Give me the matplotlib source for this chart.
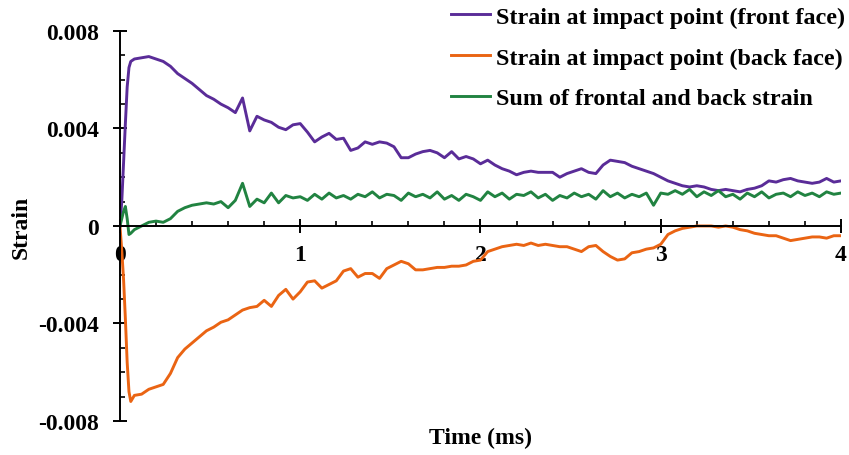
import matplotlib
matplotlib.use('Agg')
import matplotlib.pyplot as plt
import numpy as np
from matplotlib.ticker import MultipleLocator, FuncFormatter

plt.rcParams['font.family'] = ['Liberation Serif', 'DejaVu Serif']
plt.rcParams['font.weight'] = 'bold'
plt.rcParams['axes.unicode_minus'] = False

# time axis (ms): fine steps over the impact, then every 0.04 ms
time_early = [0.0, 0.01, 0.02, 0.03, 0.04, 0.05, 0.06]
time_main = list(np.round(np.arange(0.08, 4.001, 0.04), 2))
time_ms = np.array(time_early + time_main)

# strain values, in units of 1e-3
front_face = [0.0, 1.0, 2.6, 4.2, 5.7, 6.5, 6.75,
              6.85, 6.90, 6.95, 6.85, 6.75, 6.55, 6.25, 6.05, 5.85, 5.60,
              5.35, 5.20, 5.00, 4.85, 4.65, 5.25, 3.90, 4.50, 4.35, 4.25,
              4.05, 3.95, 4.15, 4.20, 3.85, 3.45, 3.65, 3.80, 3.55, 3.60,
              3.10, 3.20, 3.45, 3.35, 3.45, 3.40, 3.25, 2.80, 2.80, 2.95,
              3.05, 3.10, 3.00, 2.80, 3.05, 2.75, 2.85, 2.75, 2.55, 2.70,
              2.50, 2.35, 2.25, 2.10, 2.20, 2.25, 2.20, 2.20, 2.20, 2.00,
              2.15, 2.25, 2.35, 2.20, 2.15, 2.50, 2.70, 2.65, 2.60, 2.45,
              2.35, 2.25, 2.15, 2.00, 1.85, 1.75, 1.65, 1.60, 1.65, 1.60,
              1.50, 1.45, 1.50, 1.45, 1.40, 1.50, 1.55, 1.65, 1.85, 1.80,
              1.90, 1.95, 1.85, 1.80, 1.75, 1.80, 1.95, 1.80, 1.85]

back_face = [0.0, -1.0, -2.2, -3.8, -5.6, -6.8, -7.2,
             -6.95, -6.90, -6.70, -6.60, -6.50, -6.05, -5.40, -5.05, -4.80, -4.55,
             -4.30, -4.15, -3.95, -3.85, -3.65, -3.45, -3.35, -3.30, -3.05, -3.30,
             -2.85, -2.60, -3.00, -2.70, -2.30, -2.25, -2.55, -2.40, -2.25, -1.85,
             -1.75, -2.10, -1.95, -1.95, -2.15, -1.75, -1.60, -1.45, -1.55, -1.80,
             -1.80, -1.75, -1.70, -1.70, -1.65, -1.65, -1.60, -1.45, -1.40, -1.05,
             -0.95, -0.85, -0.80, -0.75, -0.80, -0.70, -0.80, -0.75, -0.80, -0.85,
             -0.85, -0.95, -1.05, -0.85, -0.80, -1.05, -1.25, -1.40, -1.35, -1.10,
             -1.05, -0.95, -0.90, -0.75, -0.35, -0.20, -0.10, -0.05, 0.00, 0.00,
             0.00, -0.05, 0.00, -0.05, -0.15, -0.20, -0.30, -0.35, -0.40, -0.40,
             -0.50, -0.60, -0.55, -0.50, -0.45, -0.45, -0.50, -0.40, -0.40]

sum_strain = [0.0, 0.3, 0.6, 0.8, 0.3, -0.35, -0.3,
              -0.15, 0.00, 0.15, 0.20, 0.15, 0.30, 0.60, 0.75, 0.85, 0.90,
              0.95, 0.90, 1.00, 0.75, 1.05, 1.75, 0.80, 1.10, 0.95, 1.35,
              0.95, 1.25, 1.15, 1.20, 1.05, 1.30, 1.10, 1.35, 1.15, 1.25,
              1.10, 1.30, 1.20, 1.40, 1.15, 1.30, 1.25, 1.05, 1.35, 1.20,
              1.30, 1.15, 1.40, 1.10, 1.25, 1.05, 1.30, 1.20, 1.05, 1.40,
              1.20, 1.35, 1.10, 1.30, 1.25, 1.40, 1.15, 1.30, 1.05, 1.25,
              1.15, 1.35, 1.20, 1.30, 1.10, 1.45, 1.20, 1.35, 1.15, 1.30,
              1.20, 1.35, 0.85, 1.35, 1.30, 1.45, 1.30, 1.50, 1.20, 1.40,
              1.25, 1.45, 1.20, 1.30, 1.10, 1.35, 1.20, 1.40, 1.15, 1.30,
              1.35, 1.20, 1.40, 1.25, 1.35, 1.20, 1.40, 1.30, 1.35]

labels = ['Strain at impact point (front face)',
          'Strain at impact point (back face)',
          'Sum of frontal and back strain']
colors = ['#5A2C98', '#EA6413', '#218341']

fs = 17

fig = plt.figure(figsize=(8.49, 4.56), dpi=100)
ax = fig.add_axes([0.1413, 0.0746, 0.8493, 0.8553])

for vals, lab, col in zip([front_face, back_face, sum_strain], labels, colors):
    ax.plot(time_ms, np.array(vals) * 1e-3, color=col, lw=2.1, label=lab)

ax.set_xlim(0, 4)
ax.set_ylim(-0.008, 0.008)
ax.spines['top'].set_visible(False)
ax.spines['right'].set_visible(False)
ax.spines['bottom'].set_position(('data', 0))
ax.spines['left'].set_linewidth(1.4)
ax.spines['bottom'].set_linewidth(1.4)

ax.xaxis.set_major_locator(MultipleLocator(1))
ax.xaxis.set_minor_locator(MultipleLocator(0.2))
ax.yaxis.set_major_locator(MultipleLocator(0.004))
ax.yaxis.set_minor_locator(MultipleLocator(0.001))
ax.yaxis.set_major_formatter(FuncFormatter(lambda v, p: '0' if abs(v) < 1e-9 else '%.3f' % v))
ax.xaxis.set_major_formatter(FuncFormatter(lambda v, p: '%d' % v))

ax.tick_params(which='major', direction='inout', length=10, width=1.4, labelsize=fs)
ax.tick_params(which='minor', direction='in', length=3.8, width=1.2)
ax.tick_params(axis='y', which='major', pad=10)
ax.tick_params(axis='x', which='major', pad=8)

ax.set_xlabel('Time (ms)', fontsize=fs, fontweight='bold')
ax.set_ylabel('Strain', fontsize=fs, fontweight='bold')
ax.xaxis.set_label_coords(0.5, -0.015)
ax.yaxis.set_label_coords(-0.122, 0.5)

fig.legend(loc='upper right', bbox_to_anchor=(845 / 849, 1 - 7 / 456), frameon=False,
           fontsize=17.4, handlelength=1.6, handletextpad=0.25, labelspacing=0.78,
           borderpad=0, borderaxespad=0)

fig.savefig('out.png', dpi=100)
